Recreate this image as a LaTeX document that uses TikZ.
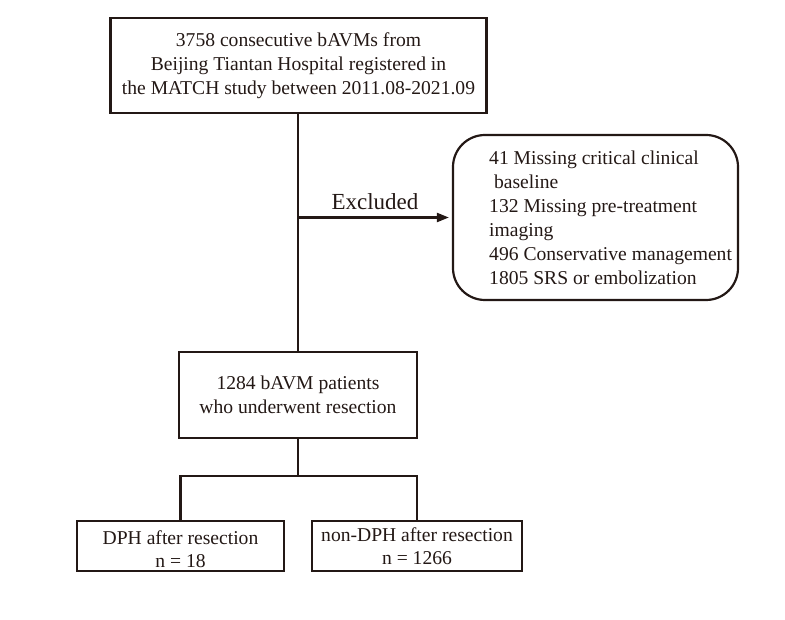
\documentclass[tikz,border=0pt]{standalone}
\usepackage{fontspec}
\setmainfont{Liberation Serif}
\usetikzlibrary{arrows.meta}
\definecolor{ink}{HTML}{231815}
\begin{document}
\begin{tikzpicture}[x=1pt,y=-1pt,
  every node/.style={font=\fontsize{19.6}{24}\selectfont, text=ink},
  box/.style={draw=ink, line width=2.2pt, inner sep=0pt, align=center},
  smallbox/.style={box, minimum height=50pt},
  smalltext/.style={align=center, inner sep=0pt, font=\fontsize{19.6}{22.5}\selectfont},
  conn/.style={draw=ink, line width=2.2pt},
  arr/.style={conn, -{Triangle[length=12pt,width=9pt]}, shorten >=3pt}]
\useasboundingbox (0,0) rectangle (785,620);
\node[box, minimum width=376pt, minimum height=95pt] (top) at (298.5,65.5)
  {3758 consecutive bAVMs from\\Beijing Tiantan Hospital registered in\\the MATCH study between 2011.08-2021.09};
\node[box, minimum width=238pt, minimum height=86pt] (res) at (298,395)
  {1284 bAVM patients\\who underwent resection};
\node[smallbox, minimum width=207pt] (dph) at (180.5,546) {};
\node[smalltext] (dphtext) at ([yshift=-3pt]dph.center) {DPH after resection\\n = 18};
\node[smallbox, minimum width=210pt] (non) at (417,546) {};
\node[smalltext] (nontext) at (non.center) {non-DPH after resection\\n = 1266};
\node[box, rounded corners=32pt, minimum width=285pt, minimum height=165pt] (exc) at (595.5,217.5) {};
\node[anchor=west, align=left, inner sep=0pt] (exctext) at (489,217.5)
  {41 Missing critical clinical\\\ baseline\\132 Missing pre-treatment\\imaging\\496 Conservative management\\1805 SRS or embolization};
\draw[conn] (top.south -| res.north) -- (res.north);
\draw[arr] (res.north |- exc.west) -- node[above=3pt, font=\fontsize{23}{27}\selectfont] (exlabel) {Excluded} (exc.west);
\coordinate (split) at (298,476);
\draw[conn] (res.south) -- (split);
\draw[conn] (dph.north) |- (split) -| (non.north);
\end{tikzpicture}
\end{document}
